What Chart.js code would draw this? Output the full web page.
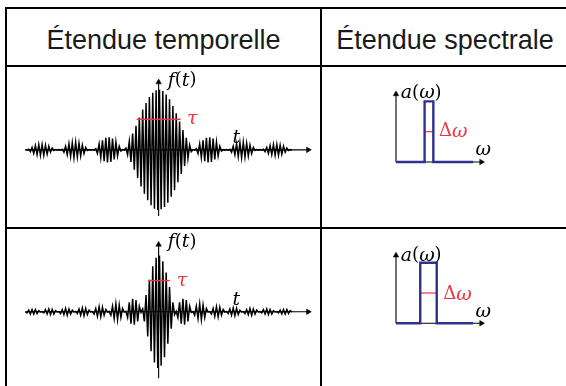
<!DOCTYPE html>
<html><head><meta charset="utf-8">
<script src="https://cdn.jsdelivr.net/npm/chart.js@4.4.1/dist/chart.umd.min.js"></script>
<style>
html,body{margin:0;padding:0;background:#fff;}
#page{position:relative;width:566px;height:386px;overflow:hidden;background:#fff;}
.rule{position:absolute;background:#000;}
.head{position:absolute;top:12px;height:56px;line-height:56px;text-align:center;font-family:"Liberation Sans",Arial,sans-serif;font-size:27px;color:#1a1a1a;white-space:nowrap;}
canvas{position:absolute;}
</style></head><body>
<div id="page">
 <div class="rule" style="left:5px;top:7px;width:600px;height:2px"></div>
 <div class="rule" style="left:5px;top:65px;width:600px;height:2px"></div>
 <div class="rule" style="left:5px;top:227px;width:600px;height:2px"></div>
 <div class="rule" style="left:5px;top:7px;width:2px;height:400px"></div>
 <div class="rule" style="left:320px;top:7px;width:2px;height:400px"></div>
 <div class="head" id="h1" style="left:7px;width:313px"></div>
 <div class="head" id="h2" style="left:322px;width:246px"></div>
 <canvas id="c1" width="313" height="160" style="left:7px;top:67px"></canvas>
 <canvas id="c2" width="244" height="160" style="left:322px;top:67px"></canvas>
 <canvas id="c3" width="313" height="157" style="left:7px;top:229px"></canvas>
 <canvas id="c4" width="244" height="157" style="left:322px;top:229px"></canvas>
</div>
<script>
// ---- data ----
const headers = ["Étendue temporelle", "Étendue spectrale"];

// long pulse (narrow spectrum): successive oscillation extremes
const longPulse = [
 0.004,-0.004,0.01,-0.03,0.04,-0.06,0.07,-0.08,0.09,-0.09,0.09,-0.09,0.08,-0.07,0.06,-0.04,0.03,-0.01,0.004,-0.004,
 0.004,-0.004,0.01,-0.04,0.06,-0.08,0.10,-0.11,0.12,-0.13,0.13,-0.12,0.11,-0.10,0.08,-0.06,0.04,-0.01,0.004,-0.004,
 0.004,-0.004,0.02,-0.06,0.10,-0.13,0.16,-0.19,0.20,-0.21,0.21,-0.20,0.19,-0.16,0.13,-0.10,0.06,-0.02,0.004,-0.004,
 0.03,-0.08,0.14,-0.20,0.27,-0.33,0.40,-0.47,0.54,-0.61,0.67,-0.73,0.78,-0.84,0.88,-0.92,0.95,-0.98,0.99,-1.00,
 1.00,-0.99,0.98,-0.95,0.92,-0.88,0.84,-0.78,0.73,-0.67,0.61,-0.54,0.47,-0.40,0.33,-0.27,0.20,-0.14,0.08,-0.03,
 0.004,-0.004,0.02,-0.06,0.10,-0.13,0.16,-0.19,0.20,-0.21,0.21,-0.20,0.19,-0.16,0.13,-0.10,0.06,-0.02,0.004,-0.004,
 0.004,-0.004,0.01,-0.04,0.06,-0.08,0.10,-0.11,0.12,-0.13,0.13,-0.12,0.11,-0.10,0.08,-0.06,0.04,-0.01,0.004,-0.004,
 0.004,-0.004,0.01,-0.03,0.04,-0.06,0.07,-0.08,0.09,-0.09,0.09,-0.09,0.08,-0.07,0.06,-0.04,0.03,-0.01,0.004,-0.004
];

// short pulse (wide spectrum)
const shortPulse = [
 0.004,-0.02,0.03,-0.04,0.04,-0.04,0.04,-0.03,0.02,-0.004,
 0.004,-0.02,0.04,-0.04,0.05,-0.05,0.04,-0.04,0.02,-0.004,
 0.004,-0.03,0.04,-0.05,0.06,-0.06,0.05,-0.04,0.03,-0.004,
 0.004,-0.03,0.05,-0.06,0.07,-0.07,0.06,-0.05,0.03,-0.004,
 0.004,-0.04,0.06,-0.08,0.09,-0.09,0.08,-0.06,0.04,-0.004,
 0.005,-0.06,0.10,-0.12,0.14,-0.14,0.12,-0.10,0.06,-0.005,
 0.01,-0.10,0.17,-0.21,0.23,-0.23,0.21,-0.17,0.10,-0.01,
 0.05,-0.17,0.30,-0.44,0.57,-0.70,0.81,-0.90,0.96,-1.00,
 1.00,-0.96,0.90,-0.81,0.70,-0.57,0.44,-0.30,0.17,-0.05,
 0.01,-0.10,0.17,-0.21,0.23,-0.23,0.21,-0.17,0.10,-0.01,
 0.005,-0.06,0.10,-0.12,0.14,-0.14,0.12,-0.10,0.06,-0.005,
 0.004,-0.04,0.06,-0.08,0.09,-0.09,0.08,-0.06,0.04,-0.004,
 0.004,-0.03,0.05,-0.06,0.07,-0.07,0.06,-0.05,0.03,-0.004,
 0.004,-0.03,0.04,-0.05,0.06,-0.06,0.05,-0.04,0.03,-0.004,
 0.004,-0.02,0.04,-0.04,0.05,-0.05,0.04,-0.04,0.02,-0.004,
 0.004,-0.02,0.03,-0.04,0.04,-0.04,0.04,-0.03,0.02,-0.004
];

const narrowSpecOmega = [0, 29.5, 29.5, 38.5, 38.5, 79.5];
const narrowSpecAmp   = [0, 0, 1, 1, 0, 0];
const wideSpecOmega   = [0, 25, 25, 42, 42, 79.5];
const wideSpecAmp     = [0, 0, 1, 1, 0, 0];

// width markers (from, to, level)
const tauLong  = [66.4, 92.6, 0.51];
const tauShort = [73.4, 86.2, 0.555];
const dOmegaNarrow = [29.5, 38.5, 0.5];
const dOmegaWide   = [25, 42, 0.5];

// ---- helpers ----
document.getElementById('h1').textContent = headers[0];
document.getElementById('h2').textContent = headers[1];

const RED = '#ef3540', BLUE = '#2f3190', BLACK = '#000';
const IT = "italic 19px 'DejaVu Serif', serif";
const UP = "18px 'DejaVu Serif', serif";

function pts(xs, ys){ return xs.map((x,i)=>({x:x, y:ys[i]})); }
function series(vals){ return vals.map((v,i)=>({x:i, y:v})); }
function lineDs(data, color, width, extra){
  return Object.assign({data:data, showLine:true, borderColor:color, backgroundColor:color,
    borderWidth:width, pointRadius:0, pointHoverRadius:0, fill:false, tension:0, clip:false}, extra||{});
}
function arrowDs(data, rot){
  return lineDs(data, BLACK, 1.1, {pointRadius:[0,3.2], pointStyle:'triangle', pointRotation:[0,rot],
    pointBackgroundColor:BLACK, pointBorderColor:BLACK, pointBorderWidth:0.5});
}
// label = list of [text, italic?] parts, centred on (x, y) in data units
function labelPlugin(items){
  return {id:'mathLabels', afterDatasetsDraw(chart){
    const ctx = chart.ctx, xs = chart.scales.x, ys = chart.scales.y;
    ctx.save();
    ctx.textAlign = 'left'; ctx.textBaseline = 'middle';
    items.forEach(it=>{
      let w = 0;
      it.parts.forEach(p=>{ ctx.font = p[1] ? IT : UP; w += ctx.measureText(p[0]).width; });
      let px = xs.getPixelForValue(it.x) - w/2;
      const py = ys.getPixelForValue(it.y);
      ctx.fillStyle = it.color || BLACK;
      it.parts.forEach(p=>{ ctx.font = p[1] ? IT : UP; ctx.fillText(p[0], px, py); px += ctx.measureText(p[0]).width; });
    });
    ctx.restore();
  }};
}
function makeChart(id, datasets, xr, yr, items){
  return new Chart(document.getElementById(id), {
    type:'scatter',
    data:{datasets:datasets},
    options:{responsive:false, animation:false, devicePixelRatio:1, events:[],
      layout:{padding:0},
      plugins:{legend:{display:false}, tooltip:{enabled:false}},
      scales:{x:{type:'linear', display:false, min:xr[0], max:xr[1]},
              y:{type:'linear', display:false, min:yr[0], max:yr[1]}}},
    plugins:[labelPlugin(items)]
  });
}

const CENTER = 79.5;
const TX = [-8.74, 173.56];
const F_T = [['f',1],['(',0],['t',1],[')',0]];
const A_W = [['a',1],['(',0],['ω',1],[')',0]];
const D_W = [['Δ',0],['ω',1]];

// top-left: long pulse
makeChart('c1', [
  lineDs([{x:tauLong[0],y:tauLong[2]},{x:tauLong[1],y:tauLong[2]}], RED, 1.4),
  lineDs(series(longPulse), BLACK, 1.5),
  arrowDs([{x:0,y:0},{x:168.7,y:0}], 90),
  arrowDs([{x:CENTER,y:-1.1},{x:CENTER,y:1.125}], 0)
], TX, [-1.222, 1.317], [
  {parts:F_T, x:93.5, y:1.15},
  {parts:[['τ',1]], x:99.6, y:0.51, color:RED},
  {parts:[['t',1]], x:125.8, y:0.2}
]);

// top-right: narrow spectrum
makeChart('c2', [
  lineDs(pts(narrowSpecOmega, narrowSpecAmp), BLUE, 2.4),
  lineDs([{x:dOmegaNarrow[0],y:dOmegaNarrow[2]},{x:dOmegaNarrow[1],y:dOmegaNarrow[2]}], RED, 1.2),
  arrowDs([{x:0,y:0},{x:88,y:0}], 90),
  arrowDs([{x:0,y:0},{x:0,y:1.12}], 0)
], [-72.5, 171.5], [-1.013, 1.507], [
  {parts:A_W, x:26, y:1.13},
  {parts:D_W, x:59, y:0.5, color:RED},
  {parts:[['ω',1]], x:90, y:0.19}
]);

// bottom-left: short pulse
makeChart('c3', [
  lineDs([{x:tauShort[0],y:tauShort[2]},{x:tauShort[1],y:tauShort[2]}], RED, 1.4),
  lineDs(series(shortPulse), BLACK, 1.5),
  arrowDs([{x:0,y:0},{x:168.7,y:0}], 90),
  arrowDs([{x:CENTER,y:-1.18},{x:CENTER,y:1.196}], 0)
], TX, [-1.254, 1.407], [
  {parts:F_T, x:93.5, y:1.24},
  {parts:[['τ',1]], x:93.5, y:0.55, color:RED},
  {parts:[['t',1]], x:125.8, y:0.2}
]);

// bottom-right: wide spectrum
makeChart('c4', [
  lineDs(pts(wideSpecOmega, wideSpecAmp), BLUE, 2.4),
  lineDs([{x:dOmegaWide[0],y:dOmegaWide[2]},{x:dOmegaWide[1],y:dOmegaWide[2]}], RED, 1.2),
  arrowDs([{x:0,y:0},{x:88,y:0}], 90),
  arrowDs([{x:0,y:0},{x:0,y:1.12}], 0)
], [-72.5, 171.5], [-0.976, 1.496], [
  {parts:A_W, x:26, y:1.118},
  {parts:D_W, x:63.5, y:0.47, color:RED},
  {parts:[['ω',1]], x:90, y:0.19}
]);
</script>
</body></html>
